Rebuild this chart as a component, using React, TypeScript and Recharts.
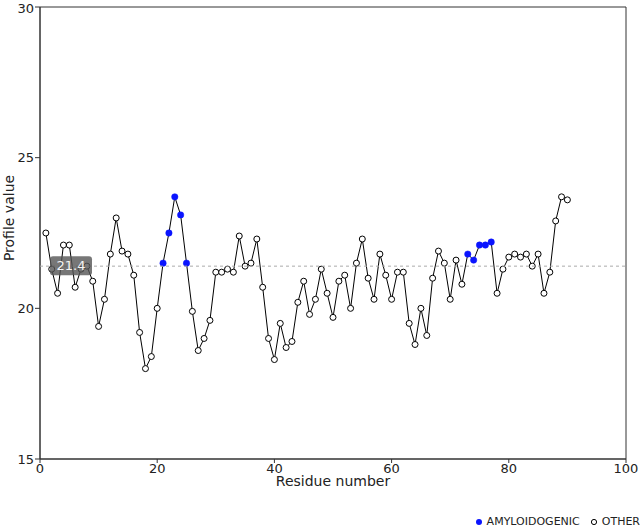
import React from "react";
import { LineChart, Line, XAxis, YAxis, ReferenceLine, ReferenceArea } from "recharts";

// profile value per residue, residue 1..90
const profileValues: number[] = [
  22.5, 21.3, 20.5, 22.1, 22.1, 20.7, 21.3, 21.4, 20.9, 19.4,
  20.3, 21.8, 23.0, 21.9, 21.8, 21.1, 19.2, 18.0, 18.4, 20.0,
  21.5, 22.5, 23.7, 23.1, 21.5, 19.9, 18.6, 19.0, 19.6, 21.2,
  21.2, 21.3, 21.2, 22.4, 21.4, 21.5, 22.3, 20.7, 19.0, 18.3,
  19.5, 18.7, 18.9, 20.2, 20.9, 19.8, 20.3, 21.3, 20.5, 19.7,
  20.9, 21.1, 20.0, 21.5, 22.3, 21.0, 20.3, 21.8, 21.1, 20.3,
  21.2, 21.2, 19.5, 18.8, 20.0, 19.1, 21.0, 21.9, 21.5, 20.3,
  21.6, 20.8, 21.8, 21.6, 22.1, 22.1, 22.2, 20.5, 21.3, 21.7,
  21.8, 21.7, 21.8, 21.4, 21.8, 20.5, 21.2, 22.9, 23.7, 23.6,
];
const amyloidogenicResidues: number[] = [21, 22, 23, 24, 25, 73, 74, 75, 76, 77];
const meanValue = 21.4;
const xTicks = [0, 20, 40, 60, 80, 100];
const yTicks = [15, 20, 25, 30];
const seriesNames = ["AMYLOIDOGENIC", "OTHER"];

const chartData = profileValues.map((value, i) => ({
  residue: i + 1,
  value,
  amyloid: amyloidogenicResidues.includes(i + 1),
}));

const FONT = "'DejaVu Sans', Verdana, sans-serif";

const renderDot = (props: any) => {
  const { cx, cy, payload, index } = props;
  if (payload.amyloid) {
    return <circle key={index} cx={cx} cy={cy} r={3.2} fill="#0a14ff" stroke="#0a14ff" strokeWidth={0.5} />;
  }
  return <circle key={index} cx={cx} cy={cy} r={3} fill="#fff" stroke="#000" strokeWidth={1} />;
};

const MeanLabel = (props: any) => {
  const { viewBox } = props;
  const x = viewBox.x + 10;
  const y = viewBox.y;
  return (
    <g>
      <rect x={x} y={y - 10} width={42} height={19} rx={3} fill="#555" fillOpacity={0.8} />
      <text x={x + 21} y={y + 4} textAnchor="middle" fill="#f4f4f4" fontSize={13} fontFamily={FONT}>
        {meanValue}
      </text>
    </g>
  );
};

const YLabel = () => (
  <text
    x={14}
    y={218}
    transform="rotate(-90 14 218)"
    textAnchor="middle"
    fill="#222"
    fontSize={14}
    fontFamily={FONT}
  >
    Profile value
  </text>
);

const App: React.FC = () => {
  return (
    <div style={{ position: "absolute", left: 0, top: 0, width: 640, height: 527, background: "#fff", fontFamily: FONT }}>
      <LineChart width={640} height={527} data={chartData} margin={{ top: 7, right: 14, bottom: 0, left: 0 }}>
        <ReferenceArea x1={0} x2={100} y1={15} y2={30} fill="none" stroke="#333" strokeWidth={1} />
        <XAxis
          dataKey="residue"
          type="number"
          domain={[0, 100]}
          ticks={xTicks}
          height={68}
          stroke="#333"
          tickSize={4}
          tickMargin={1}
          tick={{ fill: "#222", fontSize: 13, fontFamily: FONT }}
          label={{ value: "Residue number", position: "insideTop", offset: 17, fill: "#222", fontSize: 14, fontFamily: FONT }}
        />
        <YAxis
          type="number"
          domain={[15, 30]}
          ticks={yTicks}
          width={40}
          stroke="#333"
          tickSize={5}
          tickMargin={1}
          tick={{ fill: "#222", fontSize: 13, fontFamily: FONT }}
          label={<YLabel />}
        />
        <Line
          dataKey="value"
          stroke="#000"
          strokeWidth={1}
          dot={renderDot}
          activeDot={false}
          isAnimationActive={false}
        />
        <ReferenceLine
          y={meanValue}
          stroke="#aaa"
          strokeDasharray="3 3"
          label={<MeanLabel />}
          {...({ zIndex: 2000 } as any)}
        />
      </LineChart>
      <div
        style={{
          position: "absolute",
          top: 515,
          right: 0,
          display: "flex",
          alignItems: "center",
          fontSize: 11,
          color: "#222",
          whiteSpace: "nowrap",
        }}
      >
        {seriesNames.map((name, i) => (
          <span key={name} style={{ display: "flex", alignItems: "center", marginLeft: i ? 10 : 0 }}>
            <svg width={8} height={8} style={{ marginRight: 4 }}>
              {i === 0 ? (
                <circle cx={4} cy={4} r={3} fill="#0a14ff" />
              ) : (
                <circle cx={4} cy={4} r={2.6} fill="#fff" stroke="#000" strokeWidth={1} />
              )}
            </svg>
            {name}
          </span>
        ))}
      </div>
    </div>
  );
};

export default App;
